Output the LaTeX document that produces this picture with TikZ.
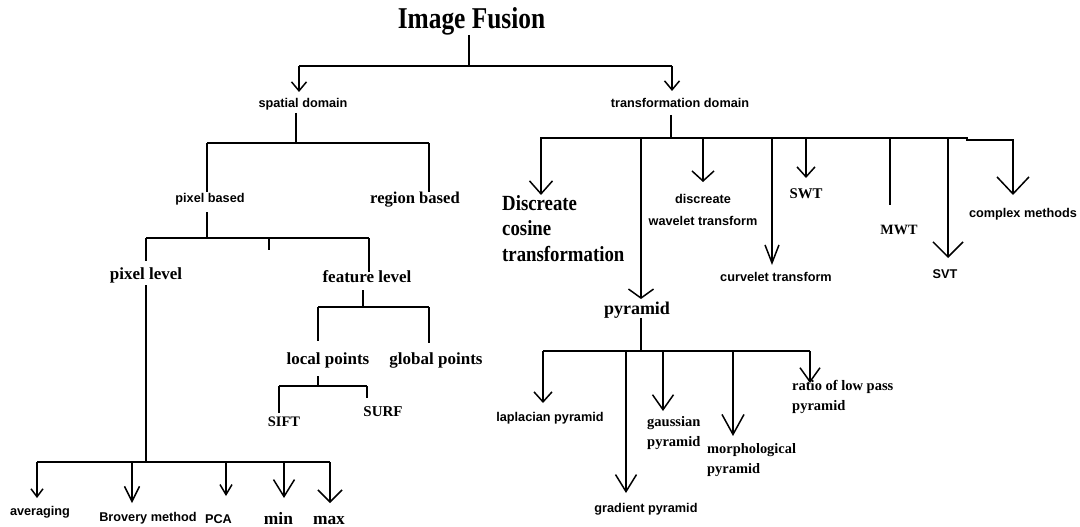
\documentclass[tikz,border=0pt]{standalone}
\usepackage{fontspec}
\setmainfont{Liberation Serif}
\newfontfamily\sansf{Liberation Sans}
\usepackage{graphicx}
\usetikzlibrary{arrows.meta}
\newcommand\mytabl[1]{\begin{tabular}[t]{@{}l@{}}#1\end{tabular}}
\tikzset{
  ln/.style={line width=1.5pt},
  barline/.style={line width=2pt},
  vv/.style 2 args={line width=1.5pt,-{Straight Barb[length=#1pt,width=#2pt]}},
  ss/.style={font=\sansf\bfseries\fontsize{12.7}{15}\selectfont, inner sep=0pt},
  srA/.style={font=\bfseries\fontsize{17}{20}\selectfont, inner sep=0pt},
  srB/.style={font=\bfseries\fontsize{14.5}{20.5}\selectfont, inner sep=0pt},
}
\begin{document}
\begin{tikzpicture}[x=1pt,y=-1pt]
\fill[white] (0,0) rectangle (1080,527);
\useasboundingbox (0,0) rectangle (1080,527);

% ---------------- text nodes ----------------
\node[anchor=base, font=\bfseries\fontsize{25.4}{30}\selectfont, inner sep=0pt] (title) at (471.5,28.3) {\scalebox{1}[1.19]{Image Fusion}};
\node[ss] (sd) at (303,104) {spatial domain};
\node[ss] (td) at (680,103) {transformation domain};
\node[ss] (pb) at (210,199) {pixel based};
\node[srA, font=\bfseries\fontsize{16.6}{20}\selectfont] (rb) at (415,199.5) {region based};
\node[srA] (pl) at (146,275.5) {pixel level};
\node[srA] (fl) at (367,276.5) {feature level};
\node[srA] (lp) at (328,360.5) {local points};
\node[srA] (gp) at (436,360.5) {global points};
\node[srB] (sift) at (284,422) {SIFT};
\node[srB, font=\bfseries\fontsize{15}{18}\selectfont] (surf) at (383,412) {SURF};
\node[ss] (avg) at (40,512) {averaging};
\node[ss] (brov) at (148,518) {Brovery method};
\node[ss] (pca) at (218.5,519.5) {PCA};
\node[srA, font=\bfseries\fontsize{17.4}{20}\selectfont, anchor=base] (mn) at (278.5,524) {min};
\node[srA, font=\bfseries\fontsize{17.4}{20}\selectfont, anchor=base] (mx) at (329,524.5) {max};

\node[anchor=base west, font=\bfseries\fontsize{18.8}{22.6}\selectfont, inner sep=0pt] (dct) at (502,210)
  {\scalebox{1}[1.15]{\mytabl{Discreate\\cosine\\transformation}}};
\node[ss, font=\sansf\bfseries\fontsize{12.7}{22}\selectfont, align=center] (dwt) at (703,210) {discreate\\wavelet transform};
\node[ss] (cvt) at (776,277) {curvelet transform};
\node[srB, font=\bfseries\fontsize{14.8}{18}\selectfont] (swt) at (806,194) {SWT};
\node[srB, font=\bfseries\fontsize{14.2}{18}\selectfont] (mwt) at (899,230) {MWT};
\node[ss] (svt) at (945,274) {SVT};
\node[ss] (cm) at (1023,214) {complex methods};
\node[srA, font=\bfseries\fontsize{18}{22}\selectfont] (pyr) at (637,310.5) {pyramid};
\node[ss] (lap) at (550,418) {laplacian pyramid};
\node[ss] (grad) at (646,509) {gradient pyramid};
\node[srB, anchor=base west] (gau) at (647,426) {\mytabl{gaussian\\pyramid}};
\node[srB, font=\bfseries\fontsize{14.4}{20}\selectfont, anchor=base west] (mor) at (707,453) {\mytabl{morphological\\pyramid}};
\node[srB, font=\bfseries\fontsize{14.5}{20}\selectfont, anchor=base west] (rat) at (792,390) {\mytabl{ratio of low pass\\pyramid}};

% ---------------- connectors ----------------
% root
\coordinate (r0) at (469,35);
\coordinate (r1) at (469,66);
\coordinate (rL) at (299,66);
\coordinate (rR) at (672,66);
\draw[ln] (r0) -- (r1);
\draw[barline] (rL) -- (rR);
\draw[vv={9}{15}] (rL) -- ++(0,26);
\draw[vv={9}{15}] (rR) -- ++(0,25);

% spatial domain
\coordinate (s0) at (296,113);
\coordinate (s1) at (296,143);
\coordinate (sL) at (207,143);
\coordinate (sR) at (429,143);
\draw[ln] (s0) -- (s1);
\draw[barline] (sL) -- (sR);
\draw[ln] (sL) -- ++(0,49);
\draw[ln] (sR) -- ++(0,49);

% pixel based
\coordinate (p0) at (207,212);
\coordinate (p1) at (207,238);
\coordinate (pL) at (146,238);
\coordinate (pR) at (369,238);
\coordinate (pT) at (269,238);
\draw[ln] (p0) -- (p1);
\draw[barline] (pL) -- (pR);
\draw[ln] (pT) -- ++(0,12);
\draw[ln] (pL) -- ++(0,23);
\draw[ln] (pR) -- ++(0,34);

% feature level
\coordinate (f0) at (363,290);
\coordinate (f1) at (363,307);
\coordinate (fL) at (318,307);
\coordinate (fR) at (429,307);
\draw[ln] (f0) -- (f1);
\draw[barline] (fL) -- (fR);
\draw[ln] (fL) -- ++(0,34);
\draw[ln] (fR) -- ++(0,36);

% local points
\coordinate (l0) at (318,376);
\coordinate (l1) at (318,386);
\coordinate (lL) at (279,386);
\coordinate (lR) at (367,386);
\draw[ln] (l0) -- (l1);
\draw[barline] (lL) -- (lR);
\draw[ln] (lL) -- ++(0,27);
\draw[ln] (lR) -- ++(0,12);

% pixel level
\coordinate (v0) at (146,285);
\coordinate (v1) at (146,462);
\coordinate (vL) at (37,462);
\coordinate (vR) at (330,462);
\coordinate (vB) at (132,462);
\coordinate (vP) at (226,462);
\coordinate (vM) at (284,462);
\draw[ln] (v0) -- (v1);
\draw[barline] (vL) -- (vR);
\draw[vv={8}{12}] (vL) -- ++(0,36);
\draw[vv={15}{15}] (vB) -- ++(0,41);
\draw[vv={10}{12}] (vP) -- ++(0,34);
\draw[vv={17}{21}] (vM) -- ++(0,36);
\draw[vv={12}{24}] (vR) -- ++(0,41);

% transformation domain
\coordinate (d0) at (671,115);
\coordinate (d1) at (671,138);
\coordinate (dL) at (540,138);
\coordinate (dR) at (968,138);
\coordinate (dC) at (966,140);
\coordinate (dD) at (541,138);
\coordinate (dP) at (641,138);
\coordinate (dW) at (703,138);
\coordinate (dV) at (772,138);
\coordinate (dS) at (806,138);
\coordinate (dM) at (890,138);
\coordinate (dT) at (948,138);
\draw[ln] (d0) -- (d1);
\draw[barline] (dL) -- (dR);
\draw[vv={17}{32}] (dC) -- ++(47,0) -- ++(0,55);
\draw[vv={13}{23}] (dD) -- ++(0,57);
\draw[vv={9}{25}] (dP) -- ++(0,161);
\draw[vv={10}{22}] (dW) -- ++(0,44);
\draw[vv={18}{14}] (dV) -- ++(0,127);
\draw[vv={10}{18}] (dS) -- ++(0,40);
\draw[ln] (dM) -- ++(0,67);
\draw[vv={15}{30}] (dT) -- ++(0,120);

% pyramid
\coordinate (y0) at (641,318);
\coordinate (y1) at (641,351);
\coordinate (yL) at (543,351);
\coordinate (yR) at (810,351);
\coordinate (yG) at (626,351);
\coordinate (yA) at (663,351);
\coordinate (yM) at (733,351);
\draw[ln] (y0) -- (y1);
\draw[barline] (yL) -- (yR);
\draw[vv={10}{18}] (yL) -- ++(0,52);
\draw[vv={17}{21}] (yG) -- ++(0,142);
\draw[vv={15}{21}] (yA) -- ++(0,60);
\draw[vv={20}{22}] (yM) -- ++(0,85);
\draw[vv={14}{20}] (yR) -- ++(0,32);
\end{tikzpicture}
\end{document}
